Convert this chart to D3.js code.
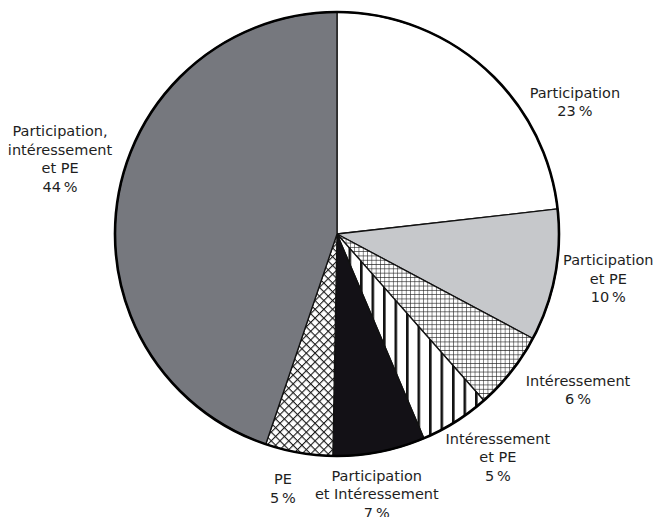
<!DOCTYPE html>
<html>
<head>
<meta charset="utf-8">
<script src="https://cdn.jsdelivr.net/npm/d3@7"></script>
<style>
  html, body { margin: 0; padding: 0; background: #fff; }
  svg { display: block; }
  text { font-family: "DejaVu Sans", sans-serif; font-size: 14.5px; fill: #1e1e1e; }
</style>
</head>
<body>
<svg></svg>
<script>
(function (d3) {
    // ==================================================
    // data (clockwise from 12 o'clock)

    const categories = [
        "Participation",
        "Participation et PE",
        "Intéressement",
        "Intéressement et PE",
        "Participation et Intéressement",
        "PE",
        "Participation, intéressement et PE"
    ];
    const values = [23.2, 9.6, 5.7, 5.1, 6.7, 4.9, 44.8];
    const shownPct = ["23", "10", "6", "5", "7", "5", "44"];
    const labelLines = [
        ["Participation"],
        ["Participation", "et PE"],
        ["Intéressement"],
        ["Intéressement", "et PE"],
        ["Participation", "et Intéressement"],
        ["PE"],
        ["Participation,", "intéressement", "et PE"]
    ];

    // label placement: angle (deg, clockwise from top) and radius of text block centre
    const labelAngle = [61, 99.4, 122.9, 144.2, 171.3, 192, 285.2];
    const labelRadius = [272, 275, 287, 275, 263, 260, 287];

    const fills = ["#ffffff", "#c6c8cb", "url(#grid)", "url(#vstripe)", "#131116", "url(#diag)", "#76787e"];

    const width = 661, height = 517;
    const cx = 337, cy = 234, radius = 222;
    const lineH = 18.5;

    const svg = d3.select("svg").attr("width", width).attr("height", height);

    // ==================================================
    // hatch patterns

    const defs = svg.append("defs");

    const grid = defs.append("pattern")
          .attr("id", "grid")
          .attr("patternUnits", "userSpaceOnUse")
          .attr("width", 4.3).attr("height", 4.3);
    grid.append("rect").attr("width", 4.3).attr("height", 4.3).attr("fill", "#fff");
    grid.append("path").attr("d", "M0,0H4.3M0,0V4.3")
        .attr("stroke", "#222").attr("stroke-width", 1.1);

    const vs = defs.append("pattern")
          .attr("id", "vstripe")
          .attr("patternUnits", "userSpaceOnUse")
          .attr("width", 11.5).attr("height", 10);
    vs.append("rect").attr("width", 11.5).attr("height", 10).attr("fill", "#fff");
    vs.append("rect").attr("x", 0).attr("width", 2.6).attr("height", 10).attr("fill", "#111");

    const diag = defs.append("pattern")
          .attr("id", "diag")
          .attr("patternUnits", "userSpaceOnUse")
          .attr("patternTransform", "rotate(45)")
          .attr("width", 6.2).attr("height", 6.2);
    diag.append("rect").attr("width", 6.2).attr("height", 6.2).attr("fill", "#fff");
    diag.append("path").attr("d", "M0,0H6.2M0,0V6.2")
        .attr("stroke", "#1a1a1a").attr("stroke-width", 2.2);

    // ==================================================
    // pie

    const data = categories.map((c, i) => ({ name: c, value: values[i], i: i }));

    const pie = d3.pie().sort(null).value(d => d.value);
    const arc = d3.arc().innerRadius(0).outerRadius(radius);
    const arcs = pie(data);

    const g = svg.append("g").attr("transform", `translate(${cx},${cy})`);

    g.selectAll("path.slice")
        .data(arcs)
        .enter()
        .append("path")
        .attr("class", "slice")
        .attr("d", arc)
        .attr("fill", d => fills[d.data.i])
        .attr("stroke", "#111")
        .attr("stroke-width", 1.3)
        .attr("stroke-linejoin", "round");

    g.append("circle")
        .attr("r", radius)
        .attr("fill", "none")
        .attr("stroke", "#000")
        .attr("stroke-width", 2.6);

    // ==================================================
    // labels

    const labels = g.selectAll("text.lbl")
          .data(arcs)
          .enter()
          .append("text")
          .attr("class", "lbl")
          .attr("text-anchor", "middle")
          .attr("transform", d => {
              const a = labelAngle[d.data.i] * Math.PI / 180;
              const r = labelRadius[d.data.i];
              return `translate(${r * Math.sin(a)},${-r * Math.cos(a)})`;
          });

    labels.each(function (d) {
        const lines = labelLines[d.data.i].concat([shownPct[d.data.i] + "\u2009%"]);
        const t = d3.select(this);
        const y0 = -(lines.length - 1) * lineH / 2;
        lines.forEach((s, k) => {
            t.append("tspan")
                .attr("x", 0)
                .attr("y", y0 + k * lineH)
                .attr("dy", "0.35em")
                .text(s);
        });
    });
})(d3);
</script>
</body>
</html>
